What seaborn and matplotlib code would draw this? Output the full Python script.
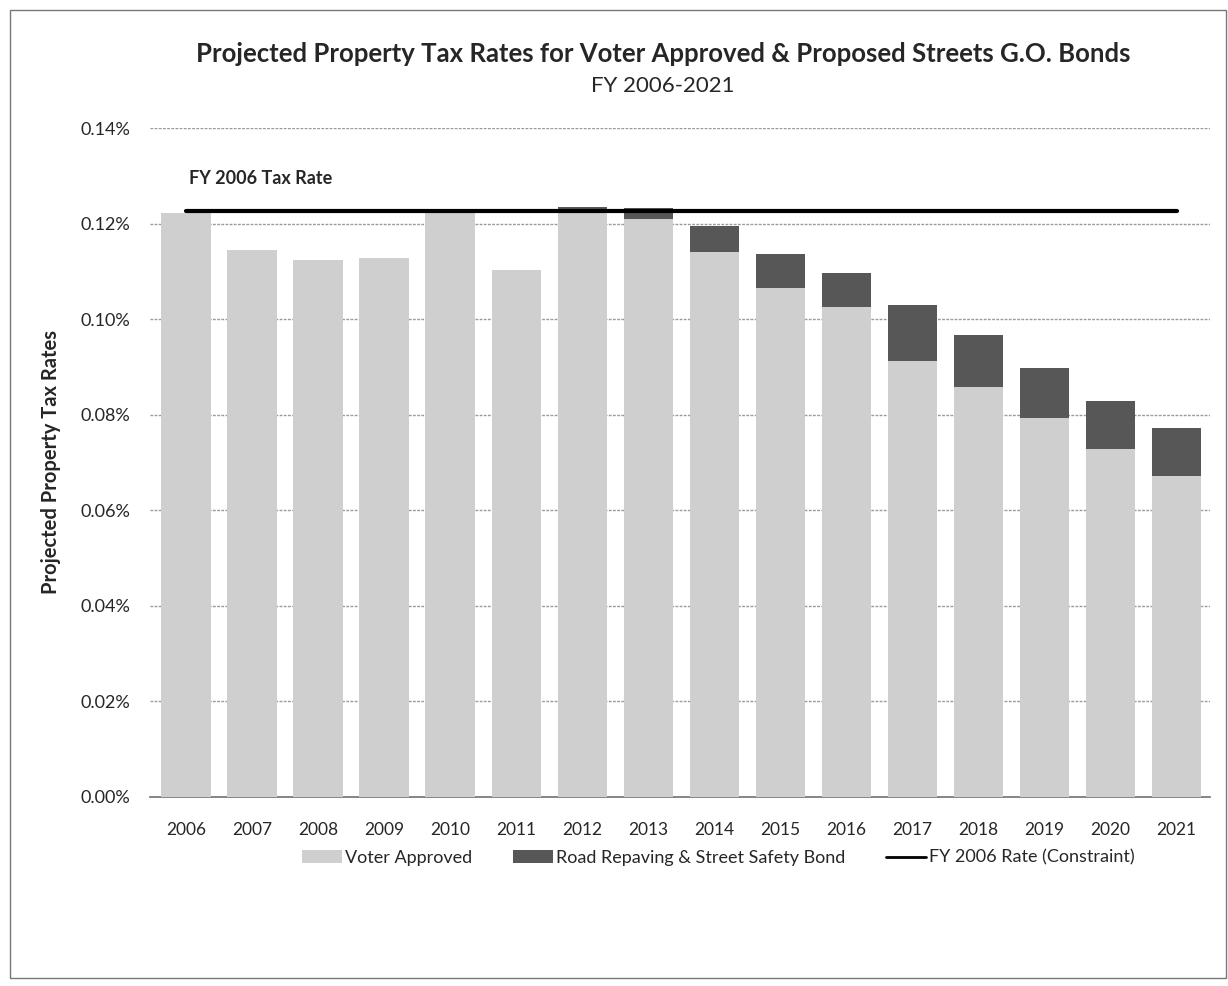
import matplotlib
matplotlib.use("Agg")
import matplotlib.pyplot as plt
import numpy as np
import seaborn as sns
from matplotlib.patches import Patch, Rectangle
from matplotlib.lines import Line2D
from matplotlib.ticker import FuncFormatter

# Datos (tasas en %)
anios = [str(a) for a in range(2006, 2022)]
voter_approved = [0.1222, 0.1145, 0.1124, 0.1128, 0.1224, 0.1103, 0.1228, 0.1210,
                  0.1141, 0.1065, 0.1026, 0.0913, 0.0858, 0.0793, 0.0728, 0.0672]
road_bond = [0.0, 0.0, 0.0, 0.0, 0.0, 0.0, 0.0006, 0.0023,
             0.0054, 0.0072, 0.0071, 0.0117, 0.0109, 0.0105, 0.0101, 0.0100]
fy2006_rate = 0.1226

total = [v + b for v, b in zip(voter_approved, road_bond)]

sns.set_theme(style="white")
plt.rcParams['font.family'] = ['Lato', 'DejaVu Sans']

fig = plt.figure(figsize=(12.28, 9.86), dpi=100)
ax = fig.add_axes([0.122, 0.192, 0.863, 0.678])

claro = "#cfcfcf"
oscuro = "#575757"

# Barra total oscura primero, luego la parte aprobada encima
sns.barplot(x=anios, y=total, color=oscuro, saturation=1, width=0.75, ax=ax,
            zorder=2, linewidth=0, edgecolor="none")
sns.barplot(x=anios, y=voter_approved, color=claro, saturation=1, width=0.75, ax=ax,
            zorder=3, linewidth=0, edgecolor="none")

# Linea de restriccion FY 2006
ax.plot(range(len(anios)), [fy2006_rate] * len(anios), color="black", lw=3, zorder=4)
ax.text(0.05, 0.1295, "FY 2006 Tax Rate", fontsize=13, fontweight="bold", ha="left", va="center")

ax.set_ylim(0, 0.14)
ax.set_xlim(-0.55, len(anios) - 0.5)
ax.set_yticks(np.arange(0, 0.141, 0.02))
ax.yaxis.set_major_formatter(FuncFormatter(lambda v, p: f"{v:.2f}%"))
ax.grid(axis="y", color="#9a9a9a", lw=1, ls=(0, (2, 1)), zorder=0)
ax.set_axisbelow(True)
for s in ["top", "right", "left"]:
    ax.spines[s].set_visible(False)
ax.spines["bottom"].set_color("#777777")
ax.tick_params(axis="x", labelsize=12.5, pad=12)
ax.tick_params(axis="y", labelsize=13, pad=8)
ax.set_xlabel("")
ax.set_ylabel("Projected Property Tax Rates", fontsize=14.5, fontweight="bold", labelpad=14)

fig.text(0.54, 0.945, "Projected Property Tax Rates for Voter Approved & Proposed Streets G.O. Bonds",
         ha="center", va="center", fontsize=18.5, fontweight="bold")
fig.text(0.54, 0.913, "FY 2006-2021", ha="center", va="center", fontsize=16)

handles = [Patch(facecolor=claro, edgecolor="none"),
           Patch(facecolor=oscuro, edgecolor="none"),
           Line2D([0], [0], color="black", lw=2)]
labels = ["Voter Approved", "Road Repaving & Street Safety Bond", "FY 2006 Rate (Constraint)"]
fig.legend(handles, labels, loc="center", bbox_to_anchor=(0.585, 0.130), ncol=3, frameon=False,
           fontsize=13, handlelength=2.2, handletextpad=0.15, columnspacing=2.3)

fig.patches.append(Rectangle((0.008, 0.008), 0.99, 0.982, transform=fig.transFigure,
                             fill=False, edgecolor="#777777", lw=1))

fig.savefig("out.png", dpi=100)
